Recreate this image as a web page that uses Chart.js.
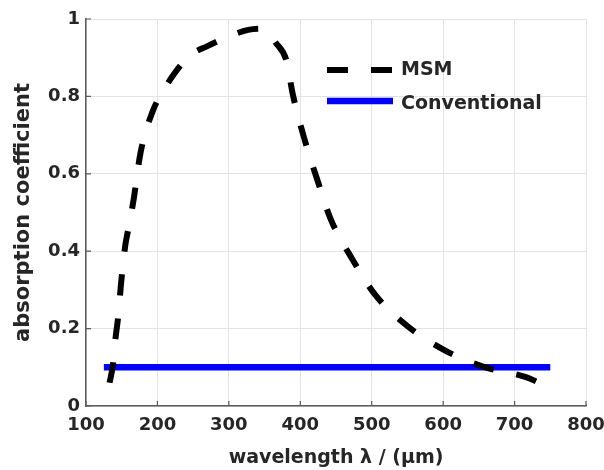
<!DOCTYPE html>
<html>
<head>
<meta charset="utf-8">
<script src="https://cdn.jsdelivr.net/npm/chart.js@4/dist/chart.umd.min.js"></script>
<style>
  body { margin: 0; background: #fff; }
  #wrap { width: 604px; height: 470px; position: relative; }
</style>
</head>
<body>
<div id="wrap"><canvas id="absorption_chart"></canvas></div>
<script>
// MSM curve
const msmWavelength = [133, 138, 141, 145, 149, 155, 159, 167, 176, 193, 210, 224, 245, 270, 300,
                       327, 345, 355, 365, 381, 389, 405, 423, 443, 472, 505, 549, 601, 657, 717, 732];
const msmAbsorption = [0.06, 0.11, 0.17, 0.23, 0.315, 0.415, 0.455, 0.537, 0.651, 0.76, 0.82, 0.86, 0.905, 0.93, 0.955,
                       0.972, 0.975, 0.965, 0.94, 0.89, 0.81, 0.695, 0.589, 0.481, 0.382, 0.287, 0.208, 0.145, 0.101, 0.074, 0.062];

// conventional: flat line
const convWavelength = [125, 750];
const convAbsorption = [0.1, 0.1];

const seriesLabels = ['MSM', 'Conventional'];
const xTicks = [100, 200, 300, 400, 500, 600, 700, 800];
const yTicks = [0, 0.2, 0.4, 0.6, 0.8, 1];
const yTickLabels = ['0', '0.2', '0.4', '0.6', '0.8', '1'];

const textColor = '#262626';
const axisColor = '#5a5a5a';
const fontFamily = '"DejaVu Sans", sans-serif';

function toPoints(xs, ys) {
    return xs.map((x, i) => ({ x: x, y: ys[i] }));
}

// inward tick marks like the original plot
const inwardTicks = {
    id: 'inwardTicks',
    afterDatasetsDraw(chart) {
        const ctx = chart.ctx;
        const area = chart.chartArea;
        const xs = chart.scales.x, ys = chart.scales.y;
        ctx.save();
        ctx.strokeStyle = axisColor;
        ctx.lineWidth = 1.2;
        ctx.beginPath();
        xTicks.forEach(v => {
            const px = xs.getPixelForValue(v);
            ctx.moveTo(px, area.bottom);
            ctx.lineTo(px, area.bottom - 5);
        });
        yTicks.forEach(v => {
            const py = ys.getPixelForValue(v);
            ctx.moveTo(area.left, py);
            ctx.lineTo(area.left + 5, py);
        });
        ctx.stroke();
        ctx.restore();
    }
};

// legend inside the plot, no box
const insideLegend = {
    id: 'insideLegend',
    afterDatasetsDraw(chart) {
        const ctx = chart.ctx;
        const rows = [{ y: 70, ty: 70 }, { y: 101, ty: 104 }];
        ctx.save();
        chart.data.datasets.forEach((ds, i) => {
            ctx.strokeStyle = ds.borderColor;
            ctx.lineWidth = ds.borderWidth;
            ctx.setLineDash(ds.borderDash || []);
            ctx.beginPath();
            ctx.moveTo(327, rows[i].y);
            ctx.lineTo(393, rows[i].y);
            ctx.stroke();
            ctx.setLineDash([]);
            ctx.fillStyle = textColor;
            ctx.font = 'bold 19px ' + fontFamily;
            ctx.textBaseline = 'middle';
            ctx.textAlign = 'left';
            ctx.fillText(ds.label, 401, rows[i].ty);
        });
        ctx.restore();
    }
};

(function absorption_chart()
{
    const canvas = document.getElementById('absorption_chart');
    const myChart = new Chart(canvas, {
        type: 'line',
        data: {
            datasets: [{
                label: seriesLabels[0],
                data: toPoints(msmWavelength, msmAbsorption),
                borderColor: '#000000',
                borderWidth: 6,
                borderDash: [21, 23],
                borderCapStyle: 'butt',
                cubicInterpolationMode: 'monotone',
                pointRadius: 0,
                fill: false
            }, {
                label: seriesLabels[1],
                data: toPoints(convWavelength, convAbsorption),
                borderColor: '#0000ff',
                borderWidth: 6.5,
                pointRadius: 0,
                fill: false
            }]
        },
        options: {
            responsive: true,
            maintainAspectRatio: false,
            animation: false,
            layout: { padding: { left: 0, right: 18, top: 19, bottom: 0 } },
            plugins: {
                legend: { display: false },
                tooltip: { enabled: false }
            },
            scales: {
                x: {
                    type: 'linear',
                    min: 100,
                    max: 800,
                    afterBuildTicks: s => { s.ticks = xTicks.map(v => ({ value: v })); },
                    afterFit: s => { s.height = 64; s.paddingLeft = 0; s.paddingRight = 0; },
                    grid: { color: '#e3e3e3', lineWidth: 1, drawTicks: false },
                    border: { color: axisColor, width: 1.5 },
                    ticks: {
                        color: textColor,
                        padding: 9,
                        maxRotation: 0,
                        font: { family: fontFamily, size: 18, weight: 'bold' }
                    },
                    title: {
                        display: true,
                        text: 'wavelength λ / (μm)',
                        color: textColor,
                        padding: { top: 0, bottom: 1 },
                        font: { family: fontFamily, size: 19, weight: 'bold' }
                    }
                },
                y: {
                    min: 0,
                    max: 1,
                    afterBuildTicks: s => { s.ticks = yTicks.map(v => ({ value: v })); },
                    afterFit: s => { s.width = 86; s.paddingTop = 0; s.paddingBottom = 0; },
                    grid: { color: '#e3e3e3', lineWidth: 1, drawTicks: false },
                    border: { color: axisColor, width: 1.5 },
                    ticks: {
                        color: textColor,
                        padding: 6,
                        callback: (v, i) => yTickLabels[i],
                        font: { family: fontFamily, size: 18, weight: 'bold' }
                    },
                    title: {
                        display: true,
                        text: 'absorption coefficient',
                        color: textColor,
                        padding: { top: 11, bottom: 0 },
                        font: { family: fontFamily, size: 21, weight: 'bold' }
                    }
                }
            }
        },
        plugins: [inwardTicks, insideLegend]
    });
})();
</script>
</body>
</html>
